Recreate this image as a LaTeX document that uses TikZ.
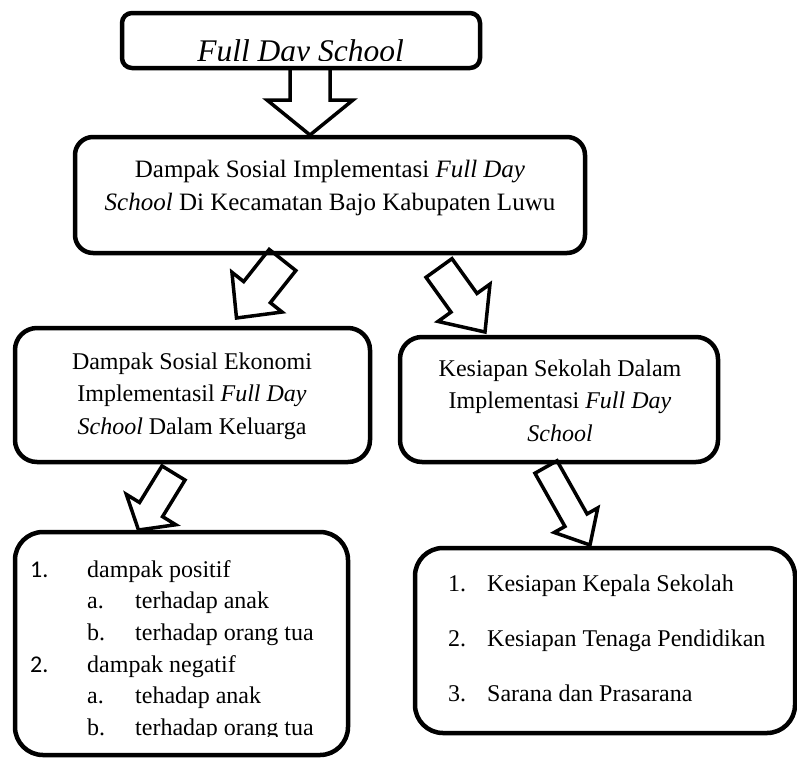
\documentclass[tikz,border=0pt]{standalone}
\usepackage{fontspec}
\setmainfont{Liberation Serif}
\newfontfamily\numfont{Carlito}
\usetikzlibrary{calc}
\def\blockarrow[#1](#2)(#3)(#4:#5:#6){%
	\coordinate (hb) at ($(#3)!#6!(#2)$);
	\draw[#1] ($(#2)!#4!90:(#3)$) -- ($(hb)!#4!90:(#3)$) -- ($(hb)!#5!90:(#3)$) -- (#3) -- ($(hb)!#5!-90:(#3)$) -- ($(hb)!#4!-90:(#3)$) -- ($(#2)!#4!-90:(#3)$) -- cycle;}

\begin{document}
\begin{tikzpicture}[x=1pt, y=-1pt,
		box/.style={draw, line width=4.5pt, inner sep=0pt, outer sep=0pt},
		arr/.style={line width=3.5pt, line join=miter},
		txt/.style={inner sep=0pt, align=center, font=\fontsize{24}{32.5}\selectfont},
		lst/.style={inner sep=0pt, anchor=north west}]
			%%%%% START %%%%%
			\useasboundingbox (0,0) rectangle (797,758);
			
			\node[box, rounded corners=10pt, minimum width=358pt, minimum height=55pt] (fds) at (301, 40.5) {};
			\node[box, rounded corners=18pt, minimum width=510pt, minimum height=116pt] (impact) at (330, 195) {};
			\node[box, rounded corners=22pt, minimum width=355pt, minimum height=134pt] (econ) at (192.5, 395) {};
			\node[box, rounded corners=22pt, minimum width=318pt, minimum height=125pt] (ready) at (559, 399.5) {};
			\node[box, rounded corners=28pt, minimum width=333pt, minimum height=223pt] (econlist) at (181.5, 643.5) {};
			\node[box, rounded corners=28pt, minimum width=380pt, minimum height=185pt] (readylist) at (605, 640.5) {};
			
			\begin{scope}
				\clip (122, 13) rectangle (480, 60);
				\node[txt, anchor=base] (fdstext) at (300.5, 61) {\fontsize{31.5}{36}\selectfont\itshape Full Day School};
			\end{scope}
			
			\node[txt, anchor=north, font=\fontsize{25}{33}\selectfont] (impacttext) at (330, 160) {Dampak Sosial Implementasi \textit{Full Day}\\ \textit{School} Di Kecamatan Bajo Kabupaten Luwu};
			\node[txt, anchor=north] (econtext) at (192, 352.5) {Dampak Sosial Ekonomi\\ Implementasil \textit{Full Day}\\ \textit{School} Dalam Keluarga};
			\node[txt, anchor=north] (readytext) at (560, 359.5) {Kesiapan Sekolah Dalam\\ Implementasi \textit{Full Day}\\ \textit{School}};
			
			\begin{scope}
				\clip (15, 532) rectangle (348, 736);
				\node[lst] (econitems) at (30, 554.9) {\fontsize{24}{31.6}\selectfont
					\begin{tabular}{@{}p{57pt}@{}p{48pt}@{}l@{}}
						{\numfont 1.} & \multicolumn{2}{@{}l@{}}{dampak positif}\\
						& a. & terhadap anak\\
						& b. & terhadap orang tua\\
						{\numfont 2.} & \multicolumn{2}{@{}l@{}}{dampak negatif}\\
						& a. & tehadap anak\\
						& b. & terhadap orang tua
					\end{tabular}};
			\end{scope}
			
			\node[lst] (readyitems) at (448, 552.5) {\fontsize{24}{55}\selectfont
				\begin{tabular}{@{}p{39pt}@{}l@{}}
					1. & Kesiapan Kepala Sekolah\\
					2. & Kesiapan Tenaga Pendidikan\\
					3. & Sarana dan Prasarana
				\end{tabular}};
			
			\coordinate (fds-out) at ($(fds.south)+(9,0)$);
			\coordinate (impact-in) at ($(impact.north)+(-20,-2)$);
			\coordinate (impact-l) at ($(impact.south)+(-47.5,7)$);
			\coordinate (econ-in) at ($(econ.north)+(44,-10)$);
			\coordinate (impact-r) at ($(impact.south)+(109,15)$);
			\coordinate (ready-in) at ($(ready.north)+(-74,-5)$);
			\coordinate (econ-out) at ($(econ.south)+(-19,11)$);
			\coordinate (econlist-in) at ($(econlist.north)+(-43,-2)$);
			\coordinate (ready-out) at ($(ready.south)+(-13,5)$);
			\coordinate (readylist-in) at ($(readylist.north)+(-15,-3)$);
			
			\blockarrow[arr](fds-out)(impact-in)(20pt:43pt:35pt)
			\blockarrow[arr](impact-l)(econ-in)(17pt:32pt:33pt)
			\blockarrow[arr](impact-r)(ready-in)(16pt:32pt:36pt)
			\blockarrow[arr](econ-out)(econlist-in)(13.5pt:29pt:24pt)
			\blockarrow[arr](ready-out)(readylist-in)(12.7pt:25pt:28.5pt)
			
			%%%%% END %%%%%
\end{tikzpicture}
\end{document}
